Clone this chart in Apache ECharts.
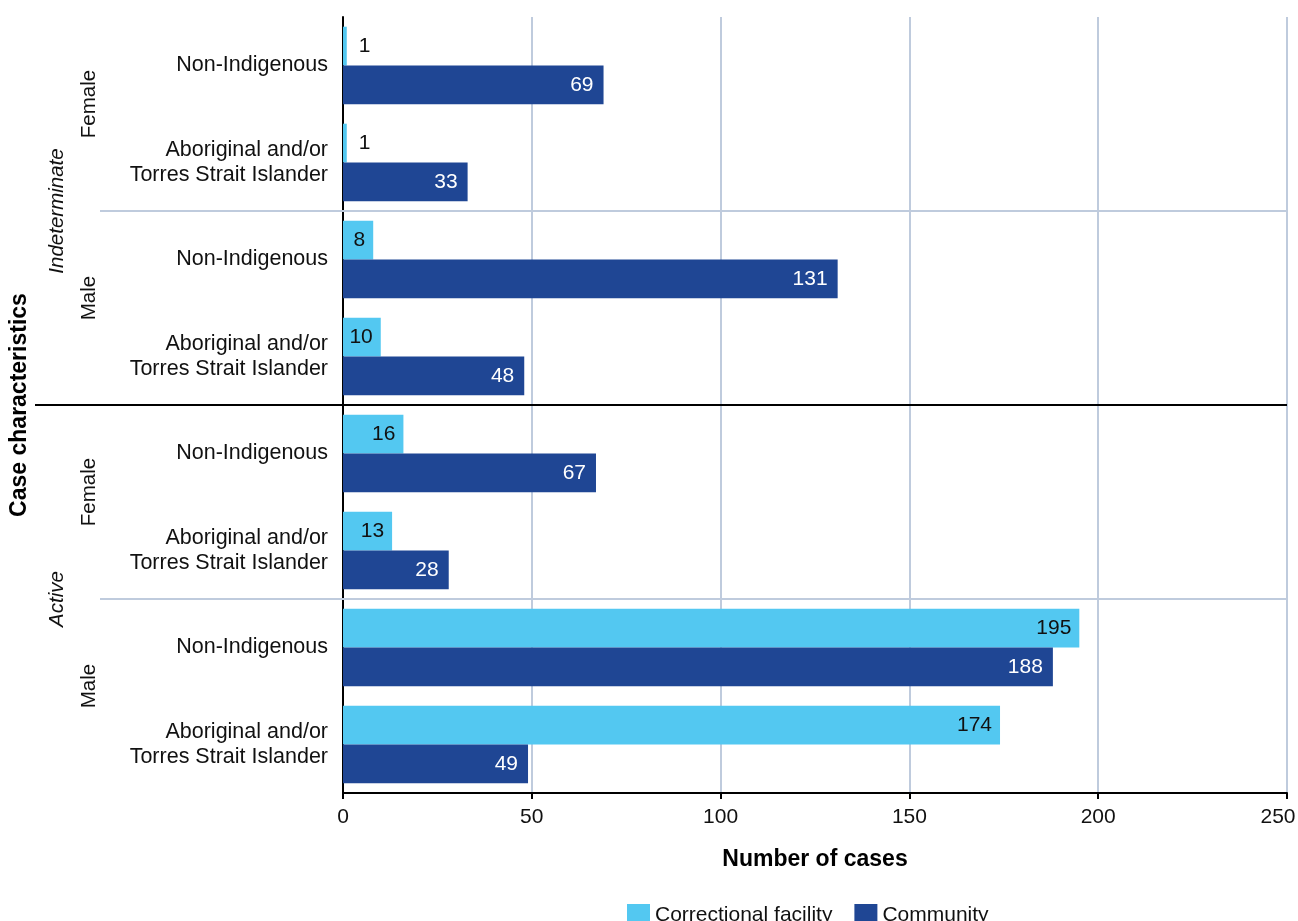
<!DOCTYPE html>
<html>
<head>
<meta charset="utf-8">
<script src="https://cdn.jsdelivr.net/npm/echarts@6/dist/echarts.min.js"></script>
<style>
  html, body { margin: 0; padding: 0; background: #fff; }
  #main { width: 1298px; height: 921px; }
</style>
</head>
<body>
<div id="main"></div>
<script>
// rows from top to bottom
var caseStatus = ['Indeterminate', 'Indeterminate', 'Indeterminate', 'Indeterminate', 'Active', 'Active', 'Active', 'Active'];
var sex = ['Female', 'Female', 'Male', 'Male', 'Female', 'Female', 'Male', 'Male'];
var origin = ['Non-Indigenous', 'Aboriginal and/or\nTorres Strait Islander', 'Non-Indigenous', 'Aboriginal and/or\nTorres Strait Islander',
              'Non-Indigenous', 'Aboriginal and/or\nTorres Strait Islander', 'Non-Indigenous', 'Aboriginal and/or\nTorres Strait Islander'];
var correctional = [1, 1, 8, 10, 16, 13, 195, 174];
var community = [69, 33, 131, 48, 67, 28, 188, 49];
var xTicks = [0, 50, 100, 150, 200, 250];

var lightBlue = '#53C8F1';
var darkBlue = '#1F4694';
var gridCol = '#BFCBDD';
var font = '"Liberation Sans", Arial, sans-serif';

var cats = [];
for (var i = 0; i < origin.length; i++) {
    cats.push(caseStatus[i] + '|' + sex[i] + '|' + origin[i]);
}

var chart = echarts.init(document.getElementById('main'));

var option = {
    animation: false,
    backgroundColor: '#fff',
    textStyle: { fontFamily: font },
    grid: { left: 343, right: 11, top: 17, bottom: 128, containLabel: false, outerBoundsMode: 'none' },
    legend: {
        left: 622,
        top: 899,
        itemWidth: 23,
        itemHeight: 22,
        itemGap: 22,
        icon: 'rect',
        textStyle: { fontSize: 21, color: '#111', fontFamily: font },
        data: ['Correctional facility', 'Community']
    },
    xAxis: {
        type: 'value',
        min: xTicks[0],
        max: xTicks[xTicks.length - 1],
        interval: 50,
        name: 'Number of cases',
        nameLocation: 'middle',
        nameGap: 55,
        nameTextStyle: { fontSize: 23, fontWeight: 'bold', color: '#000', fontFamily: font },
        axisLine: { show: true, lineStyle: { color: '#000', width: 2 } },
        axisTick: { show: true, length: 6, lineStyle: { color: '#000', width: 2 } },
        axisLabel: {
            fontSize: 21,
            color: '#111',
            margin: 14,
            fontFamily: font,
            // last label sits a bit left so it stays on the page
            formatter: function (v) {
                return v === xTicks[xTicks.length - 1] ? '{last|' + v + '}' : String(v);
            },
            rich: { last: { fontSize: 21, color: '#111', fontFamily: font, padding: [0, 18, 0, 0] } }
        },
        splitLine: { show: true, lineStyle: { color: gridCol, width: 2 } }
    },
    yAxis: {
        type: 'category',
        inverse: true,
        data: cats,
        axisLine: { show: true, onZero: false, lineStyle: { color: '#000', width: 2 } },
        axisTick: { show: false },
        splitLine: { show: false },
        axisLabel: {
            fontSize: 21.5,
            lineHeight: 25,
            color: '#111',
            margin: 15,
            align: 'right',
            fontFamily: font,
            formatter: function (v) { return v.split('|')[2]; }
        }
    },
    series: [
        {
            name: 'Correctional facility',
            type: 'bar',
            barGap: '0%',
            barCategoryGap: '20%',
            itemStyle: { color: lightBlue },
            data: correctional.map(function (v) {
                return {
                    value: v,
                    label: v < 5 ? { position: 'right', distance: 12 } : {}
                };
            }),
            label: {
                show: true,
                position: 'insideRight',
                distance: 8,
                color: '#111',
                fontSize: 21,
                fontFamily: font
            }
        },
        {
            name: 'Community',
            type: 'bar',
            itemStyle: { color: darkBlue },
            data: community,
            label: {
                show: true,
                position: 'insideRight',
                distance: 10,
                color: '#fff',
                fontSize: 21,
                fontFamily: font
            }
        }
    ]
};
chart.setOption(option);

// group labels and separators placed from the category positions
function rowY(i) { return chart.convertToPixel({ yAxisIndex: 0 }, cats[i]); }
function between(a, b) { return (rowY(a) + rowY(b)) / 2; }
var xRight = chart.convertToPixel({ xAxisIndex: 0 }, xTicks[xTicks.length - 1]);

function vText(x, y, txt, style) {
    return {
        type: 'text',
        x: x, y: y,
        rotation: Math.PI / 2,
        style: Object.assign({
            text: txt,
            fontSize: 20.5,
            fontFamily: font,
            fill: '#111',
            align: 'center',
            verticalAlign: 'middle'
        }, style || {})
    };
}
function hLine(x1, y, col) {
    return {
        type: 'line',
        z: 5,
        shape: { x1: x1, y1: y, x2: xRight, y2: y },
        style: { stroke: col, lineWidth: 2 }
    };
}

var g = [];
// sex labels (pairs of rows), set a little above the pair's middle
for (var k = 0; k < 8; k += 2) {
    g.push(vText(89, between(k, k + 1) - 10, sex[k]));
}
// status labels (groups of four)
g.push(vText(57, between(1, 2), caseStatus[0], { fontStyle: 'italic' }));
g.push(vText(57, between(5, 6), caseStatus[4], { fontStyle: 'italic' }));
// y axis title
g.push(vText(20, between(3, 4), 'Case characteristics', { fontWeight: 'bold', fill: '#000', fontSize: 23 }));
// separators
g.push(hLine(100, between(1, 2), gridCol));
g.push(hLine(35, between(3, 4), '#000'));
g.push(hLine(100, between(5, 6), gridCol));

chart.setOption({ graphic: g });
</script>
</body>
</html>
